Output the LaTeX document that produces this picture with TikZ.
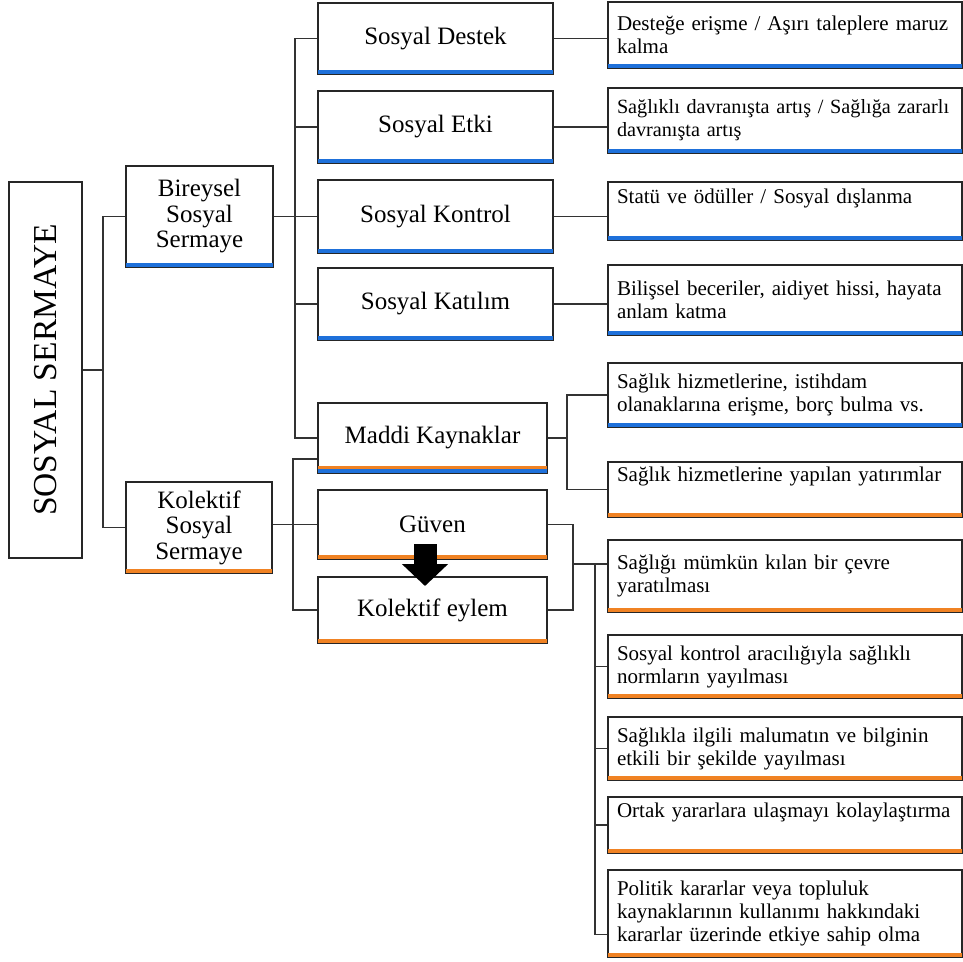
\documentclass[tikz,border=0pt]{standalone}
\usepackage{fontspec}
\setmainfont{Liberation Serif}
\usetikzlibrary{arrows.meta,positioning,calc}
\definecolor{barblue}{RGB}{30,112,218}
\definecolor{barorange}{RGB}{240,130,35}

\begin{document}
\begin{tikzpicture}[x=1pt, y=-1pt, line width=2pt,
  box/.style={draw=black!85, fill=white, rectangle, inner sep=0pt, align=center},
  mid/.style={box, minimum width=235pt, font=\fontsize{25}{26}\selectfont},
  leaf/.style={box, minimum width=354pt, text width=336pt, align=left, font=\fontsize{21}{23}\selectfont},
  link/.style={line width=1.7pt, draw=black!80},
  bluebar/.style={barblue, line width=3.8pt},
  orangebar/.style={barorange, line width=3.8pt}]
  \useasboundingbox (0,0) rectangle (963,961);

  \node[box, minimum width=73pt, minimum height=376pt] (ss) at (45.5,370) {\rotatebox{90}{\fontsize{33.5}{35}\selectfont SOSYAL SERMAYE}};
  \node[box, minimum width=147pt, minimum height=101pt, font=\fontsize{25}{25.5}\selectfont] (bir) at (199.5,216.5) {Bireysel\\Sosyal\\Sermaye};
  \node[box, minimum width=146pt, minimum height=91pt, font=\fontsize{25}{25.5}\selectfont] (kol) at (199,527.5) {Kolektif\\Sosyal\\Sermaye};

  \node[mid, minimum height=71pt] (des) at (435.5,38.5) {Sosyal Destek};
  \node[mid, minimum height=72pt] (etk) at (435.5,127) {Sosyal Etki};
  \node[mid, minimum height=73pt] (kon) at (435.5,216.5) {Sosyal Kontrol};
  \node[mid, minimum height=72pt] (kat) at (435.5,304) {Sosyal Katılım};
  \node[mid, minimum width=229pt, minimum height=70pt] (mad) at (432.5,438) {Maddi Kaynaklar};
  \node[mid, minimum width=229pt, minimum height=69pt] (guv) at (432.5,524.5) {Güven};
  \node[mid, minimum width=229pt, minimum height=66pt] (eyl) at (432.5,610) {Kolektif eylem};

  \node[leaf, minimum height=66pt] (r1) at (785,35) {Desteğe~erişme~/~Aşırı~taleplere~maruz\\kalma};
  \node[leaf, minimum height=65pt, font=\fontsize{20.2}{23}\selectfont] (r2) at (785,120.5) {Sağlıklı~davranışta~artış~/~Sağlığa~zararlı\\davranışta artış};
  \node[leaf, minimum height=58pt] (r3) at (785,211) {Statü ve ödüller / Sosyal dışlanma\\\strut};
  \node[leaf, minimum height=70pt] (r4) at (785,300) {Bilişsel beceriler, aidiyet hissi, hayata\\anlam katma};
  \node[leaf, minimum height=64pt] (r5) at (785,395) {Sağlık hizmetlerine, istihdam\\olanaklarına erişme, borç bulma vs.};
  \node[leaf, minimum height=55pt] (r6) at (785,489.5) {Sağlık hizmetlerine yapılan yatırımlar\\\strut};
  \node[leaf, minimum height=72pt] (r7) at (785,576) {Sağlığı mümkün kılan bir çevre\\yaratılması};
  \node[leaf, minimum height=63pt] (r8) at (785,666.5) {Sosyal kontrol aracılığıyla sağlıklı\\normların yayılması};
  \node[leaf, minimum height=63pt] (r9) at (785,748.5) {Sağlıkla ilgili malumatın ve bilginin\\etkili bir şekilde yayılması};
  \node[leaf, minimum height=56pt] (r10) at (785,825) {Ortak~yararlara~ulaşmayı~kolaylaştırma\\\strut};
  \node[leaf, minimum height=87pt] (r11) at (785,913.5) {Politik kararlar veya topluluk\\kaynaklarının kullanımı hakkındaki\\kararlar üzerinde etkiye sahip olma};

  \foreach \n in {bir,des,etk,kon,kat,mad,r1,r2,r3,r4,r5}
    \draw[bluebar] ([shift={(1pt,2.9pt)}]\n.south west) -- ([shift={(-1pt,2.9pt)}]\n.south east);
  \foreach \n in {kol,guv,eyl,r6,r7,r8,r9,r10,r11}
    \draw[orangebar] ([shift={(1pt,2.9pt)}]\n.south west) -- ([shift={(-1pt,2.9pt)}]\n.south east);
  \draw[orangebar] ([shift={(1pt,6.5pt)}]mad.south west) -- ([shift={(-1pt,6.5pt)}]mad.south east);

  \coordinate (ssbus) at (103,370);
  \draw[link] (ss.east) -- (ssbus);
  \draw[link] (bir.west) -| (ssbus) |- (kol.west);

  \coordinate (birbus) at (295,216.5);
  \draw[link] (bir.east) -- (birbus);
  \draw[link] (des.west) -| (birbus) |- (mad.west);
  \foreach \n in {etk,kon,kat}
    \draw[link] (\n.west) -- (\n.west -| birbus);

  \coordinate (kolbus) at (293,524.5);
  \draw[link] (kol.east |- guv.west) -- (guv.west);
  \draw[link] ([yshift=-21pt]mad.west) -| (kolbus) |- (eyl.west);

  \foreach \a/\b in {des/r1,etk/r2,kon/r3,kat/r4}
    \draw[link] (\a.east) -- (\a.east -| \b.west);

  \coordinate (madbus) at (567,438);
  \draw[link] (mad.east) -- (madbus);
  \draw[link] (r5.west) -| (madbus) |- (r6.west);

  \coordinate (gebus) at (573,564);
  \coordinate (leafbus) at (595,564);
  \draw[link] (guv.east) -| (gebus) |- (eyl.east);
  \draw[link] (gebus) -- (gebus -| r7.west);
  \draw[link] (leafbus) |- ([yshift=-21pt]r11.west);
  \foreach \n in {r8,r9,r10}
    \draw[link] (\n.west) -- (\n.west -| leafbus);

  \draw[line width=23pt, -{Triangle[width=45pt,length=22pt]}] ([xshift=-7.5pt,yshift=16pt]guv.south) -- ([xshift=-7.5pt,yshift=-10pt]eyl.north);
\end{tikzpicture}
\end{document}
